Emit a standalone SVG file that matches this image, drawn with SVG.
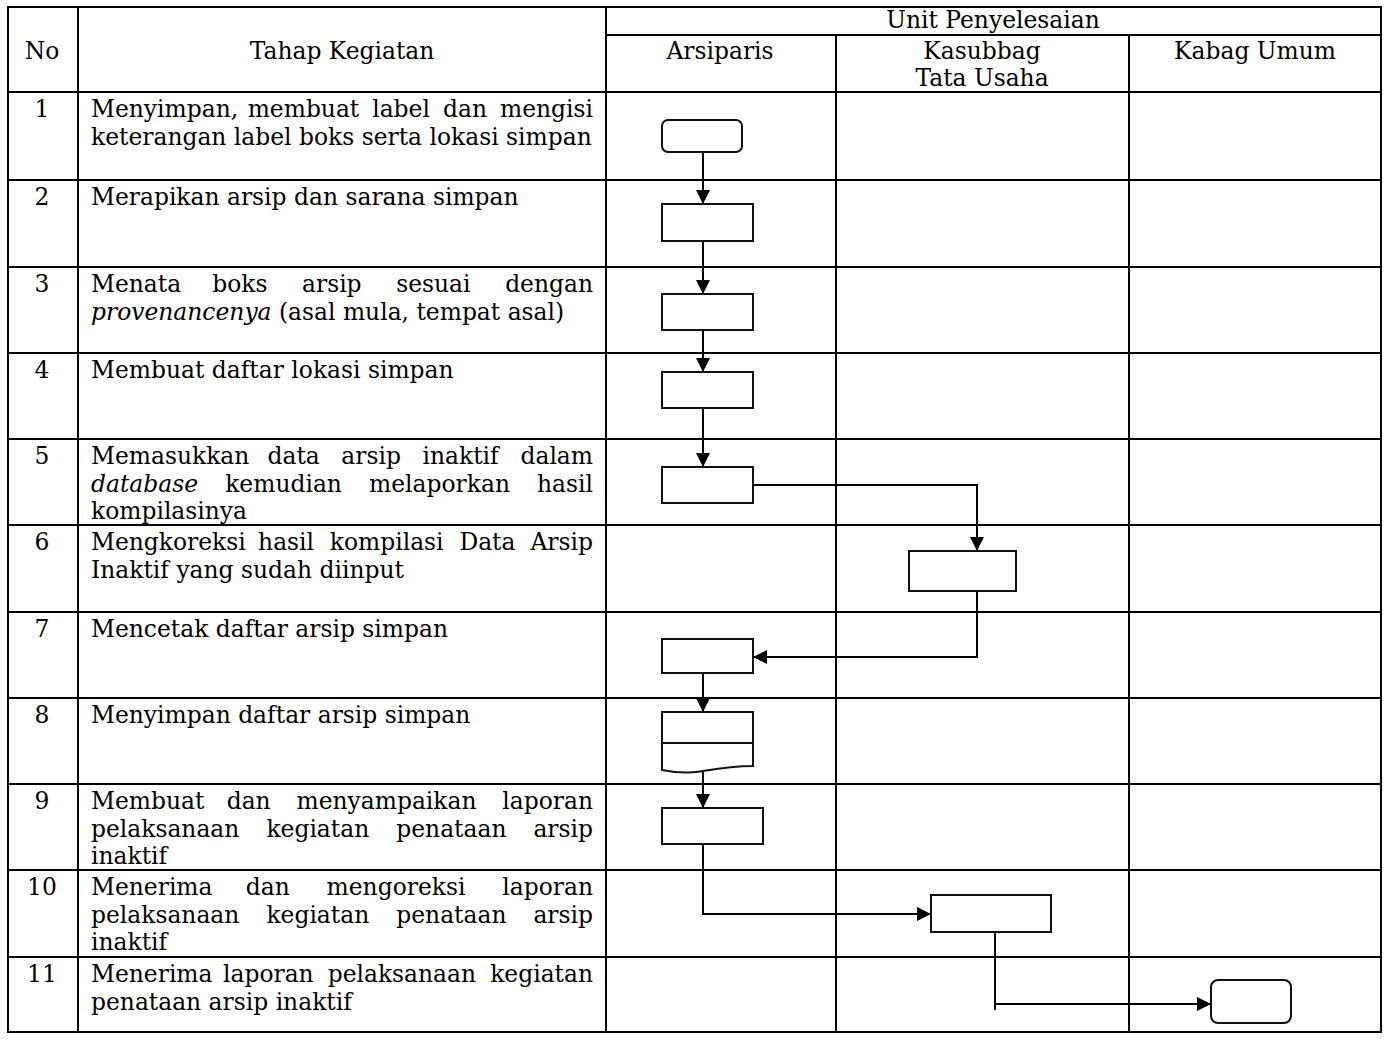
<svg xmlns="http://www.w3.org/2000/svg" width="1384" height="1039" viewBox="0 0 1384 1039">
<style>
.grid{stroke:#000;stroke-width:2;fill:none}
.shape{stroke:#111;stroke-width:2;fill:#fff}
.conn{stroke:#000;stroke-width:2;fill:none}
text{font-family:"DejaVu Serif","Liberation Serif",serif;font-size:23.4px;fill:#000}
.c{text-anchor:middle}
.e{text-anchor:end}
.it{font-style:italic}
</style>
<defs>
<marker id="arr" markerUnits="userSpaceOnUse" markerWidth="15" markerHeight="15" refX="14" refY="7.5" orient="auto">
<path d="M0,0.5 L14,7.5 L0,14.5 z" fill="#000"/>
</marker>
</defs>
<rect width="1384" height="1039" fill="#fff"/>
<g id="table">
<rect class="grid" x="8" y="7" width="1373" height="1025"/>
<line class="grid" x1="78" y1="7" x2="78" y2="1032"/>
<line class="grid" x1="606" y1="7" x2="606" y2="1032"/>
<line class="grid" x1="836" y1="35" x2="836" y2="1032"/>
<line class="grid" x1="1129" y1="35" x2="1129" y2="1032"/>
<line class="grid" x1="606" y1="35" x2="1381" y2="35"/>
<line class="grid" x1="8" y1="92" x2="1381" y2="92"/>
<line class="grid" x1="8" y1="180" x2="1381" y2="180"/>
<line class="grid" x1="8" y1="267" x2="1381" y2="267"/>
<line class="grid" x1="8" y1="353" x2="1381" y2="353"/>
<line class="grid" x1="8" y1="439" x2="1381" y2="439"/>
<line class="grid" x1="8" y1="525" x2="1381" y2="525"/>
<line class="grid" x1="8" y1="612" x2="1381" y2="612"/>
<line class="grid" x1="8" y1="698" x2="1381" y2="698"/>
<line class="grid" x1="8" y1="784" x2="1381" y2="784"/>
<line class="grid" x1="8" y1="870" x2="1381" y2="870"/>
<line class="grid" x1="8" y1="957" x2="1381" y2="957"/>
</g>
<g id="header">
<text class="c" x="42" y="59">No</text>
<text class="c" x="342" y="59">Tahap Kegiatan</text>
<text class="c" x="993" y="28">Unit Penyelesaian</text>
<text class="c" x="720" y="59">Arsiparis</text>
<text class="c" x="982" y="59">Kasubbag</text>
<text class="c" x="982" y="86">Tata Usaha</text>
<text class="c" x="1255" y="59">Kabag Umum</text>
</g>
<g id="steps">
<text class="c" x="42" y="117">1</text>
<text y="117"><tspan x="91">Menyimpan,</tspan><tspan x="247.7">membuat</tspan><tspan x="372.2">label</tspan><tspan x="443">dan</tspan><tspan x="593" class="e">mengisi</tspan></text>
<text x="91" y="144.5">keterangan label boks serta lokasi simpan</text>

<text class="c" x="42" y="205">2</text>
<text x="91" y="205">Merapikan arsip dan sarana simpan</text>

<text class="c" x="42" y="292">3</text>
<text y="292"><tspan x="91">Menata</tspan><tspan x="212.2">boks</tspan><tspan x="302">arsip</tspan><tspan x="396.2">sesuai</tspan><tspan x="593" class="e">dengan</tspan></text>
<text x="91" y="319.5"><tspan class="it">provenancenya</tspan> (asal mula, tempat asal)</text>

<text class="c" x="42" y="378">4</text>
<text x="91" y="378">Membuat daftar lokasi simpan</text>

<text class="c" x="42" y="464">5</text>
<text y="464"><tspan x="91">Memasukkan</tspan><tspan x="267.5">data</tspan><tspan x="341.3">arsip</tspan><tspan x="422.5">inaktif</tspan><tspan x="593" class="e">dalam</tspan></text>
<text y="491.5"><tspan x="91" class="it">database</tspan><tspan x="225.2">kemudian</tspan><tspan x="369.1">melaporkan</tspan><tspan x="593" class="e">hasil</tspan></text>
<text x="91" y="519">kompilasinya</text>

<text class="c" x="42" y="550">6</text>
<text y="550"><tspan x="91">Mengkoreksi</tspan><tspan x="258.1">hasil</tspan><tspan x="329.8">kompilasi</tspan><tspan x="459.4">Data</tspan><tspan x="593" class="e">Arsip</tspan></text>
<text x="91" y="577.5">Inaktif yang sudah diinput</text>

<text class="c" x="42" y="637">7</text>
<text x="91" y="637">Mencetak daftar arsip simpan</text>

<text class="c" x="42" y="723">8</text>
<text x="91" y="723">Menyimpan daftar arsip simpan</text>

<text class="c" x="42" y="809">9</text>
<text y="809"><tspan x="91">Membuat</tspan><tspan x="226.7">dan</tspan><tspan x="296.5">menyampaikan</tspan><tspan x="593" class="e">laporan</tspan></text>
<text y="836.5"><tspan x="91">pelaksanaan</tspan><tspan x="266.4">kegiatan</tspan><tspan x="396.3">penataan</tspan><tspan x="593" class="e">arsip</tspan></text>
<text x="91" y="864">inaktif</text>

<text class="c" x="42" y="895">10</text>
<text y="895"><tspan x="91">Menerima</tspan><tspan x="245.8">dan</tspan><tspan x="326.6">mengoreksi</tspan><tspan x="593" class="e">laporan</tspan></text>
<text y="922.5"><tspan x="91">pelaksanaan</tspan><tspan x="266.4">kegiatan</tspan><tspan x="396.3">penataan</tspan><tspan x="593" class="e">arsip</tspan></text>
<text x="91" y="950">inaktif</text>

<text class="c" x="42" y="982">11</text>
<text y="982"><tspan x="91">Menerima</tspan><tspan x="223">laporan</tspan><tspan x="327.7">pelaksanaan</tspan><tspan x="593" class="e">kegiatan</tspan></text>
<text x="91" y="1009.5">penataan arsip inaktif</text>
</g>
<g id="connectors">
<path class="conn" d="M703,152 V204" marker-end="url(#arr)"/>
<path class="conn" d="M703,241 V294" marker-end="url(#arr)"/>
<path class="conn" d="M703,330 V372" marker-end="url(#arr)"/>
<path class="conn" d="M703,408 V467" marker-end="url(#arr)"/>
<path class="conn" d="M753,485 H977 V551" marker-end="url(#arr)"/>
<path class="conn" d="M977,591 V657 H753" marker-end="url(#arr)"/>
<path class="conn" d="M703,673 V712" marker-end="url(#arr)"/>
<path class="conn" d="M703,772 V808" marker-end="url(#arr)"/>
<path class="conn" d="M703,844 V914 H931" marker-end="url(#arr)"/>
<path class="conn" d="M995,932 V1010"/>
<path class="conn" d="M995,1004 H1211" marker-end="url(#arr)"/>
</g>
<g id="n1"><rect class="shape" x="662" y="120" width="80" height="32" rx="6"/></g>
<g id="n2"><rect class="shape" x="662" y="204" width="91" height="37"/></g>
<g id="n3"><rect class="shape" x="662" y="294" width="91" height="36"/></g>
<g id="n4"><rect class="shape" x="662" y="372" width="91" height="36"/></g>
<g id="n5"><rect class="shape" x="662" y="467" width="91" height="36"/></g>
<g id="n6"><rect class="shape" x="909" y="551" width="107" height="40"/></g>
<g id="n7"><rect class="shape" x="662" y="639" width="91" height="34"/></g>
<g id="n8"><path class="shape" d="M662,712 H753 V766 C730,766 715,769 700,771.5 C685,774 672,772 662,770 Z"/><line class="shape" x1="662" y1="743" x2="753" y2="743"/></g>
<g id="n9"><rect class="shape" x="662" y="808" width="101" height="36"/></g>
<g id="n10"><rect class="shape" x="931" y="895" width="120" height="37"/></g>
<g id="n11"><rect class="shape" x="1211" y="980" width="80" height="43" rx="7"/></g>
</svg>
